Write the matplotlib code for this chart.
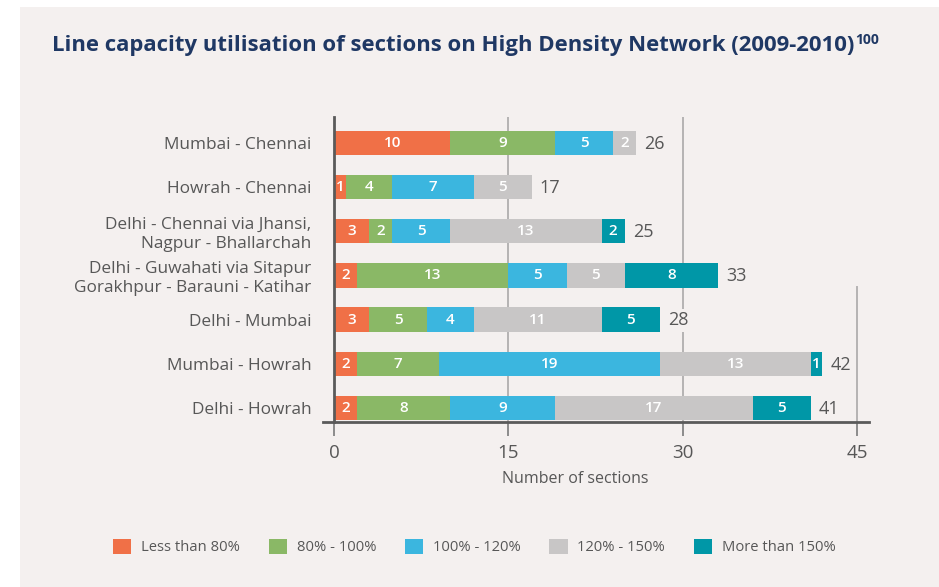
import numpy as np
import matplotlib.pyplot as plt
from matplotlib.patches import Patch, Rectangle

plt.rcParams['font.family'] = ['Open Sans', 'DejaVu Sans']

routes = [
    "Mumbai - Chennai",
    "Howrah - Chennai",
    "Delhi - Chennai via Jhansi,\nNagpur - Bhallarchah",
    "Delhi - Guwahati via Sitapur\nGorakhpur - Barauni - Katihar",
    "Delhi - Mumbai",
    "Mumbai - Howrah",
    "Delhi - Howrah",
]
bands = ["Less than 80%", "80% - 100%", "100% - 120%", "120% - 150%", "More than 150%"]
less_80 = [10, 1, 3, 2, 3, 2, 2]
p80_100 = [9, 4, 2, 13, 5, 7, 8]
p100_120 = [5, 7, 5, 5, 4, 19, 9]
p120_150 = [2, 5, 13, 5, 11, 13, 17]
more_150 = [0, 0, 2, 8, 5, 1, 5]
xticks = [0, 15, 30, 45]

colors = ["#F07047", "#8AB866", "#3BB6DF", "#C8C6C6", "#0097A7"]
bg = "#F4F0EF"
text_grey = "#575757"
title_blue = "#1F3864"

fig = plt.figure(figsize=(9.39, 5.87), dpi=100, facecolor="white")
fig.patches.append(Rectangle((20 / 939, 0), 1, 1 - 7 / 587, transform=fig.transFigure,
                             facecolor=bg, edgecolor="none", zorder=-10))

ax = fig.add_axes([323 / 939, 1 - 422 / 587, 546 / 939, 305 / 587])
ax.set_facecolor("none")

series = np.array([less_80, p80_100, p100_120, p120_150, more_150])
y = np.arange(len(routes))
left = np.zeros(len(routes))
for vals, col in zip(series, colors):
    bars = ax.barh(y, vals, left=left, height=0.55, color=col, zorder=3)
    for rect, v in zip(bars, vals):
        if v > 0:
            ax.text(rect.get_x() + rect.get_width() / 2, rect.get_y() + rect.get_height() / 2,
                    str(v), ha="center", va="center", color="white", fontsize=11,
                    fontweight="semibold", zorder=4)
    left += vals

totals = series.sum(axis=0)
for yi, t in zip(y, totals):
    ax.text(t + 0.7, yi + 0.02, str(t), ha="left", va="center", fontsize=13,
            color=text_grey, zorder=5,
            bbox=dict(facecolor=bg, edgecolor="none", pad=1.5))

# vertical guide lines
for gx in [15, 30]:
    ax.axvline(gx, color="#B5B3B3", lw=1.4, zorder=1)
ax.axvline(45, ymax=0.443, color="#B5B3B3", lw=1.4, zorder=1)

ax.set_xlim(-0.95, 46.0)
ax.set_ylim(6.32, -0.59)
ax.set_yticks(y)
ax.set_yticklabels(routes, linespacing=1.1)
ax.set_xticks(xticks)
ax.set_xticklabels([str(v) for v in xticks])
ax.tick_params(axis="y", length=0, pad=16.5, labelsize=12.4, labelcolor=text_grey)
ax.tick_params(axis="x", length=10, width=1.4, color="#8C8C8C", pad=6,
               labelsize=13.5, labelcolor=text_grey)

for s in ["top", "right"]:
    ax.spines[s].set_visible(False)
ax.spines["left"].set_position(("data", 0))
ax.spines["left"].set_color("#5A5A5A")
ax.spines["left"].set_linewidth(2)
ax.spines["bottom"].set_color("#5A5A5A")
ax.spines["bottom"].set_linewidth(2)
ax.spines["left"].set_zorder(6)

ax.set_xlabel("Number of sections", fontsize=11.5, color=text_grey)
ax.xaxis.set_label_coords(0.4615, -0.16)

title = fig.text(52 / 939, 1 - 45 / 587,
                 "Line capacity utilisation of sections on High Density Network (2009-2010)",
                 fontsize=15.9, fontweight="bold", color=title_blue, ha="left", va="center")
fig.canvas.draw()
tb = title.get_window_extent().transformed(fig.transFigure.inverted())
fig.text(tb.x1 + 0.001, tb.y1 + 0.002, "100", fontsize=10, fontweight="bold",
         color=title_blue, ha="left", va="top")

handles = [Patch(facecolor=c, edgecolor="none") for c in colors]
fig.legend(handles, bands, loc="center", bbox_to_anchor=(0.505, 1 - 547 / 587), ncol=5,
           frameon=False, fontsize=10.6, labelcolor=text_grey, handlelength=1.25,
           handleheight=1.25, handletextpad=0.65, columnspacing=1.95)

fig.savefig("out.png", dpi=100, facecolor=fig.get_facecolor())
